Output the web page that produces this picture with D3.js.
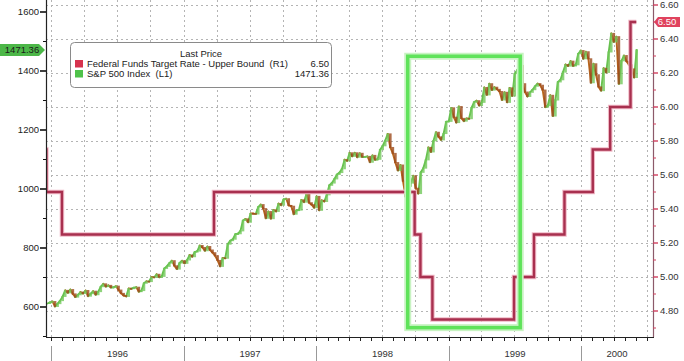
<!DOCTYPE html>
<html><head><meta charset="utf-8">
<script src="https://cdn.jsdelivr.net/npm/d3@7"></script>
<style>body{margin:0;background:#fff;} svg{display:block;font-family:"Liberation Sans",Arial,sans-serif;}</style>
</head><body><svg id="c" width="684" height="361"></svg>
<script>
// ---------- DATA ----------
const spFirstFriday = "1995-12-22";
const sp1995 = [611.9, 615.9];
const sp1996 = [618.5, 601.8, 611.4, 621.6, 635.8, 656.4, 648.0, 659.1, 644.4, 633.5, 641.4, 650.6, 645.5,
  655.9, 636.7, 645.1, 653.5, 641.6, 652.1, 668.9, 678.5, 669.1, 673.3, 665.9, 666.8, 670.6,
  657.4, 646.2, 638.7, 635.9, 662.5, 662.1, 665.2, 667.0, 652.0, 655.7, 680.5, 687.0, 686.2,
  701.5, 700.7, 710.8, 700.9, 703.8, 730.8, 737.6, 748.7, 757.0, 739.6, 728.6, 748.9, 756.8];
const sp1997 = [748.0, 759.5, 776.2, 770.5, 786.2, 789.6, 808.5, 801.8, 790.8, 805.0, 793.2, 784.1, 773.9,
  757.9, 737.7, 766.3, 765.4, 813.0, 824.8, 829.8, 847.0, 848.3, 858.0, 893.3, 898.7, 887.3,
  916.9, 916.7, 915.3, 938.8, 947.1, 933.5, 900.8, 923.5, 899.5, 929.1, 923.9, 950.5, 945.2,
  965.0, 967.0, 944.2, 941.6, 914.6, 927.5, 928.4, 963.1, 955.4, 983.8, 953.4, 946.8, 936.5];
const sp1998 = [975.0, 927.7, 961.5, 957.6, 980.3, 1012.5, 1020.1, 1034.2, 1049.3, 1055.7, 1068.6, 1099.2, 1095.4,
  1122.7, 1110.7, 1122.7, 1107.9, 1121.0, 1108.1, 1108.7, 1110.5, 1090.8, 1113.9, 1098.8, 1100.7, 1133.2,
  1146.4, 1164.3, 1186.8, 1140.8, 1120.7, 1089.5, 1062.8, 1081.2, 1027.1, 973.9, 1009.1, 1020.1, 1044.8,
  1002.6, 984.6, 1056.4, 1070.7, 1098.7, 1141.0, 1125.7, 1163.6, 1192.3, 1176.7, 1166.5, 1188.0, 1228.5, 1229.2];
const sp1999 = [1275.1, 1243.3, 1225.2, 1279.6, 1239.4, 1230.1, 1239.2, 1238.3, 1275.5, 1294.6, 1299.3, 1282.8,
  1293.7, 1344.0, 1319.0, 1356.9, 1335.2, 1345.0, 1337.8, 1330.3, 1301.8, 1327.8, 1293.6, 1342.8, 1315.3,
  1391.2, 1403.3, 1418.8, 1356.9, 1328.7, 1313.7, 1327.7, 1336.6, 1348.3, 1357.2, 1351.7, 1335.4, 1277.4,
  1282.8, 1317.6, 1247.4, 1301.7, 1362.9, 1370.2, 1396.1, 1422.0, 1416.6, 1433.3, 1417.0, 1421.0, 1458.3, 1469.3];
const sp2000 = [1441.5, 1465.2, 1441.4, 1360.2, 1424.4, 1387.1, 1346.1, 1333.4, 1409.2, 1395.1, 1464.5, 1527.5, 1498.6,
  1516.4, 1356.6, 1434.5, 1452.4, 1432.6, 1421.0, 1407.0, 1378.0, 1471.36];

const fedDates = ["1995-12-17","1995-12-19","1996-01-31","1997-03-25","1998-09-29","1998-10-15","1998-11-17",
  "1999-06-30","1999-08-24","1999-11-16","2000-02-02","2000-03-21","2000-05-16","2000-06-01"];
const fedRates = [5.75, 5.50, 5.25, 5.50, 5.25, 5.00, 4.75, 5.00, 5.25, 5.50, 5.75, 6.00, 6.50, 6.50];

const leftTicks = [600, 800, 1000, 1200, 1400, 1600];
const rightTicks = [4.80, 5.00, 5.20, 5.40, 5.60, 5.80, 6.00, 6.20, 6.40, 6.60];
const yearLabels = ["1996", "1997", "1998", "1999", "2000"];
const legendTitle = "Last Price";
const seriesNames = ["Federal Funds Target Rate - Upper Bound  (R1)", "S&P 500 Index  (L1)"];
const lastValues = ["6.50", "1471.36"];
const highlightDates = ["1998-09-10", "1999-07-17"];
const highlightValues = [530, 1450];

// ---------- SETUP ----------
const L = 46, R = 653, T = 0, B = 337;
const parse = d3.timeParse("%Y-%m-%d");
const svg = d3.select("#c");

const x = d3.scaleTime().domain([new Date(1995,11,18), new Date(2000,6,17)]).range([L, R]);
const yL = d3.scaleLinear().domain([600, 1600]).range([307, 12]);
const yR = d3.scaleLinear().domain([4.8, 6.6]).range([311, 5]);

const spValues = [].concat(sp1995, sp1996, sp1997, sp1998, sp1999, sp2000);
const f0 = parse(spFirstFriday);
const sp = spValues.map((v, i) => ({date: d3.timeDay.offset(f0, 7 * i), v}));
const fed = fedDates.map((d, i) => ({date: parse(d), v: fedRates[i]}));

svg.append("defs").append("clipPath").attr("id", "clip")
  .append("rect").attr("x", L).attr("y", T).attr("width", R - L).attr("height", B - T);

// grid
const grid = svg.append("g").attr("stroke", "#b4b4b4").attr("stroke-width", 1).attr("stroke-dasharray", "2,3");
rightTicks.forEach(t => {
  grid.append("line").attr("x1", L).attr("x2", R).attr("y1", Math.round(yR(t)) + 0.5).attr("y2", Math.round(yR(t)) + 0.5);
});
d3.timeMonth.every(3).range(x.domain()[0], x.domain()[1]).forEach(d => {
  const xx = Math.round(x(d)) + 0.5;
  grid.append("line").attr("x1", xx).attr("x2", xx).attr("y1", T).attr("y2", B);
});

const plot = svg.append("g").attr("clip-path", "url(#clip)");

// S&P 500 segments
const upC = "#66c04e", dnC = "#b8661f";
for (let i = 1; i < sp.length; i++) {
  const a = sp[i - 1], b = sp[i];
  const up = b.v >= a.v;
  plot.append("line")
    .attr("x1", x(a.date)).attr("y1", yL(a.v)).attr("x2", x(b.date)).attr("y2", yL(b.v))
    .attr("stroke", up ? upC : dnC).attr("stroke-width", 1.9).attr("stroke-linecap", "round");
}
for (let i = 1; i < sp.length; i++) {
  const a = sp[i - 1], b = sp[i];
  const up = b.v >= a.v;
  plot.append("rect")
    .attr("x", x(b.date) - 1.3).attr("width", 2.6)
    .attr("y", Math.min(yL(a.v), yL(b.v)) - 0.5).attr("height", Math.max(1.5, Math.abs(yL(a.v) - yL(b.v)) + 1))
    .attr("fill", up ? "#72c85a" : "#9c4a1c").attr("opacity", 0.8);
}

// Fed funds step line
const step = d3.line().x(d => x(d.date)).y(d => yR(d.v)).curve(d3.curveStepAfter);
plot.append("path").datum(fed).attr("d", step).attr("fill", "none")
  .attr("stroke", "#f0b9c6").attr("stroke-width", 4.5);
plot.append("path").datum(fed).attr("d", step).attr("fill", "none")
  .attr("stroke", "#a8304f").attr("stroke-width", 2.4);

// highlight box
const hx0 = x(parse(highlightDates[0])), hx1 = x(parse(highlightDates[1]));
const hy0 = yL(highlightValues[1]), hy1 = yL(highlightValues[0]);
svg.append("rect").attr("x", hx0).attr("y", hy0).attr("width", hx1 - hx0).attr("height", hy1 - hy0)
  .attr("fill", "none").attr("stroke", "#c8f3c2").attr("stroke-width", 7);
svg.append("rect").attr("x", hx0).attr("y", hy0).attr("width", hx1 - hx0).attr("height", hy1 - hy0)
  .attr("fill", "none").attr("stroke", "#5fe35a").attr("stroke-width", 3.5);

// axes lines
svg.append("line").attr("x1", L + 0.5).attr("x2", L + 0.5).attr("y1", 0).attr("y2", B).attr("stroke", "#222").attr("stroke-width", 1.2);
svg.append("line").attr("x1", R + 0.5).attr("x2", R + 0.5).attr("y1", 0).attr("y2", B).attr("stroke", "#8c5a6a").attr("stroke-width", 1.2);
svg.append("line").attr("x1", L).attr("x2", R + 1).attr("y1", B + 0.5).attr("y2", B + 0.5).attr("stroke", "#222").attr("stroke-width", 1.2);

const fs = "9.5px";
// left axis
d3.range(500, 1700, 100).forEach(t => {
  const yy = yL(t); if (yy < 0 || yy > B) return;
  const major = leftTicks.includes(t);
  svg.append("line").attr("x1", major ? 40 : 43).attr("x2", L).attr("y1", yy).attr("y2", yy)
    .attr("stroke", "#111").attr("stroke-width", major ? 1.6 : 1);
});
leftTicks.forEach(t => {
  svg.append("text").attr("x", 39).attr("y", yL(t)).attr("dy", "0.35em").attr("text-anchor", "end")
    .attr("font-size", fs).attr("fill", "#222").text(t);
});
// right axis
d3.range(4.7, 6.65, 0.1).forEach(t => {
  const yy = yR(t); if (yy < 0 || yy > B) return;
  const major = rightTicks.some(r => Math.abs(r - t) < 1e-6);
  svg.append("line").attr("x1", R).attr("x2", R + (major ? 5 : 3)).attr("y1", yy).attr("y2", yy)
    .attr("stroke", "#d0405f").attr("stroke-width", major ? 1.4 : 1);
});
rightTicks.forEach(t => {
  svg.append("text").attr("x", 660).attr("y", yR(t)).attr("dy", "0.35em")
    .attr("font-size", fs).attr("fill", "#333").text(t.toFixed(2));
});
// bottom axis ticks
d3.timeMonth.range(x.domain()[0], x.domain()[1]).forEach(d => {
  const xx = Math.round(x(d)) + 0.5;
  svg.append("line").attr("x1", xx).attr("x2", xx).attr("y1", B).attr("y2", B + 4).attr("stroke", "#222");
});
const years = yearLabels.map(y => new Date(+y, 0, 1));
years.forEach((d, i) => {
  const xs = Math.round(x(d)) + 0.5;
  svg.append("line").attr("x1", xs).attr("x2", xs).attr("y1", 346).attr("y2", 361).attr("stroke", "#999");
  const end = i < years.length - 1 ? years[i + 1] : x.domain()[1];
  svg.append("text").attr("x", (x(d) + x(end)) / 2).attr("y", 357).attr("text-anchor", "middle")
    .attr("font-size", fs).attr("fill", "#333").text(yearLabels[i]);
});

// legend
const lg = svg.append("g");
lg.append("rect").attr("x", 70.5).attr("y", 42.5).attr("width", 261).attr("height", 45).attr("rx", 4)
  .attr("fill", "#fff").attr("stroke", "#8a8a8a");
lg.append("text").attr("x", 201).attr("y", 57).attr("text-anchor", "middle").attr("font-size", fs).attr("fill", "#222").text(legendTitle);
const colors = ["#d6334e", "#4fc24a"];
[0, 1].forEach(i => {
  const by = 67 + i * 10;
  lg.append("rect").attr("x", 75).attr("y", by - 7).attr("width", 8).attr("height", 7.5).attr("fill", colors[i]);
  lg.append("text").attr("x", 87).attr("y", by).attr("font-size", fs).attr("fill", "#222")
    .style("white-space", "pre").text(seriesNames[i]);
  lg.append("text").attr("x", 329).attr("y", by).attr("text-anchor", "end").attr("font-size", fs).attr("fill", "#222").text(lastValues[i]);
});

// last value tags
const ly = yL(+lastValues[1]);
svg.append("path").attr("d", `M0,${ly - 6} H39 L45,${ly} L39,${ly + 6} H0 Z`).attr("fill", "#4cb748");
svg.append("text").attr("x", 22).attr("y", ly).attr("dy", "0.35em").attr("text-anchor", "middle")
  .attr("font-size", fs).attr("fill", "#1a1a1a").text(lastValues[1]);
const ry = yR(+lastValues[0]);
svg.append("path").attr("d", `M${R + 1},${ry} L${R + 5},${ry - 5} H680 V${ry + 5} H${R + 5} Z`).attr("fill", "#e0435e");
svg.append("text").attr("x", 667).attr("y", ry).attr("dy", "0.35em").attr("text-anchor", "middle")
  .attr("font-size", fs).attr("fill", "#fff").text(lastValues[0]);
</script></body></html>
